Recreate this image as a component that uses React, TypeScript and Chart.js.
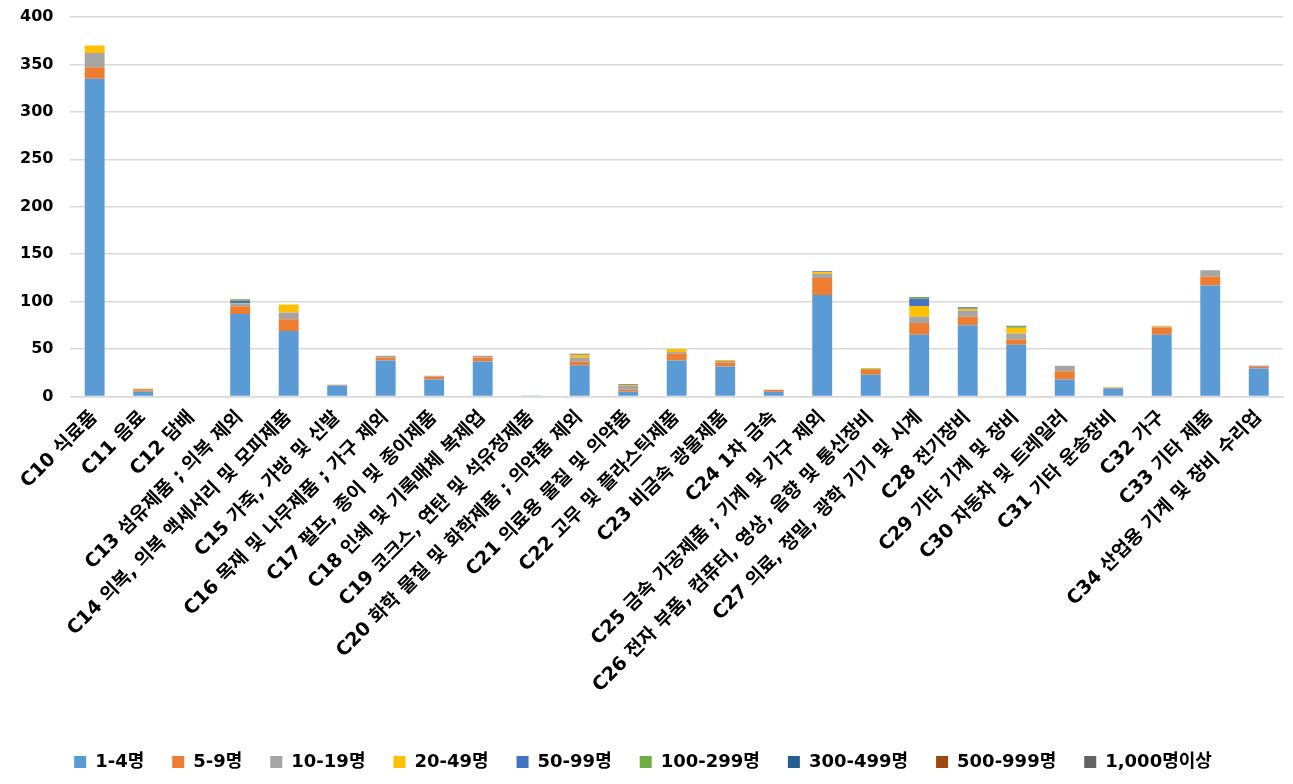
import React, { useEffect, useRef } from "react";
import { Chart, registerables } from "chart.js";

Chart.register(...registerables);

const categories = [
  "C10 식료품",
  "C11 음료",
  "C12 담배",
  "C13 섬유제품 ; 의복 제외",
  "C14 의복, 의복 액세서리 및 모피제품",
  "C15 가죽, 가방 및 신발",
  "C16 목재 및 나무제품 ; 가구 제외",
  "C17 펄프, 종이 및 종이제품",
  "C18 인쇄 및 기록매체 복제업",
  "C19 코크스, 연탄 및 석유정제품",
  "C20 화학 물질 및 화학제품 ; 의약품 제외",
  "C21 의료용 물질 및 의약품",
  "C22 고무 및 플라스틱제품",
  "C23 비금속 광물제품",
  "C24 1차 금속",
  "C25 금속 가공제품 ; 기계 및 가구 제외",
  "C26 전자 부품, 컴퓨터, 영상, 음향 및 통신장비",
  "C27 의료, 정밀, 광학 기기 및 시계",
  "C28 전기장비",
  "C29 기타 기계 및 장비",
  "C30 자동차 및 트레일러",
  "C31 기타 운송장비",
  "C32 가구",
  "C33 기타 제품",
  "C34 산업용 기계 및 장비 수리업",
];

const seriesNames = ["1-4명", "5-9명", "10-19명", "20-49명", "50-99명", "100-299명", "300-499명", "500-999명", "1,000명이상"];

const s1to4 = [335, 5, 0, 87, 69, 11.5, 38, 18, 37, 1, 33, 5, 38, 31.5, 5, 107, 23, 65, 75, 54.5, 18, 8.5, 65, 117, 29.5];
const s5to9 = [12, 1.5, 0, 8, 12.5, 1, 3, 3, 4, 0, 4, 2, 7, 4, 2, 18, 5, 12.5, 9, 5.5, 8.5, 0.5, 7.5, 9.5, 2];
const s10to19 = [15, 1.5, 0, 2.5, 7, 0, 2, 1, 2, 0, 4, 4, 2, 2, 0, 4, 1, 6.5, 6.5, 6.5, 6, 0.3, 1, 6.5, 0];
const s20to49 = [8, 0.5, 0, 0.5, 8.5, 0, 0, 0, 0, 0, 3, 1, 3, 1, 0, 2, 1, 11.5, 2, 6, 0, 0.7, 1, 0, 0];
const s50to99 = [0, 0, 0, 3, 0, 0, 0, 0, 0, 0, 1, 1, 0, 0, 0, 1, 0, 7.5, 1.5, 0.5, 0, 0, 0, 0, 1];
const s100to299 = [0, 0, 0, 1.5, 0, 0, 0, 0, 0, 0, 0, 0, 0, 0, 0, 0, 0, 2, 0, 1.5, 0, 0, 0, 0, 0];
const s300to499 = [0, 0, 0, 0, 0, 0, 0, 0, 0, 0, 0, 0, 0, 0, 0, 0, 0, 0, 0, 0, 0, 0, 0, 0, 0];
const s500to999 = [0, 0, 0, 0, 0, 0, 0, 0, 0, 0, 0, 0, 0, 0, 0, 0, 0, 0, 0, 0, 0, 0, 0, 0, 0];
const s1000plus = [0, 0, 0, 0, 0, 0, 0, 0, 0, 0, 0, 0, 0, 0, 0, 0, 0, 0, 0, 0, 0, 0, 0, 0, 0];

const seriesValues = [s1to4, s5to9, s10to19, s20to49, s50to99, s100to299, s300to499, s500to999, s1000plus];
const seriesColors = ["#5B9BD5", "#ED7D31", "#A5A5A5", "#FFC000", "#4472C4", "#70AD47", "#255E91", "#9E480E", "#636363"];

const yTicks = [0, 50, 100, 150, 200, 250, 300, 350, 400];

const FONT = "'DejaVu Sans', 'Noto Sans CJK KR', sans-serif";

export default function App() {
  const ref = useRef<HTMLCanvasElement>(null);
  useEffect(() => {
    document.body.style.margin = "0";
    if (!ref.current) return;
    const chart = new Chart(ref.current, {
      type: "bar",
      data: {
        labels: categories,
        datasets: seriesNames.map((name, i) => ({
          label: name,
          data: seriesValues[i],
          backgroundColor: seriesColors[i],
          borderWidth: 0,
          categoryPercentage: 0.82,
          barPercentage: 0.5,
        })),
      },
      options: {
        animation: false,
        responsive: false,
        maintainAspectRatio: false,
        layout: { padding: { top: 17, right: 10, left: 3, bottom: 3 } },
        plugins: {
          legend: {
            position: "bottom",
            labels: {
              color: "#000",
              font: { family: FONT, size: 18, weight: "bold" },
              boxWidth: 12,
              boxHeight: 12,
              padding: 28,
            },
          },
          tooltip: { enabled: false },
        },
        scales: {
          x: {
            stacked: true,
            grid: { display: false },
            border: { color: "#D9D9D9", width: 1.5 },
            afterFit: (axis: any) => {
              axis.height += 26;
            },
            ticks: {
              color: "#000",
              font: { family: FONT, size: 19, weight: "bold" },
              minRotation: 45,
              maxRotation: 45,
              autoSkip: false,
              padding: 2,
            },
          },
          y: {
            stacked: true,
            min: 0,
            max: 400,
            afterBuildTicks: (axis: any) => {
              axis.ticks = yTicks.map((v) => ({ value: v }));
            },
            afterFit: (axis: any) => {
              axis.paddingTop = 0;
              axis.paddingBottom = 0;
            },
            grid: { color: "#D9D9D9", lineWidth: 1.5, drawTicks: false },
            border: { display: false },
            ticks: {
              color: "#000",
              font: { family: FONT, size: 16, weight: "bold" },
              padding: 17,
            },
          },
        },
      },
    });
    return () => chart.destroy();
  }, []);
  return (
    <div style={{ width: 1293, height: 784 }}>
      <canvas ref={ref} width={1293} height={784} style={{ width: 1293, height: 784, display: "block" }} />
    </div>
  );
}
